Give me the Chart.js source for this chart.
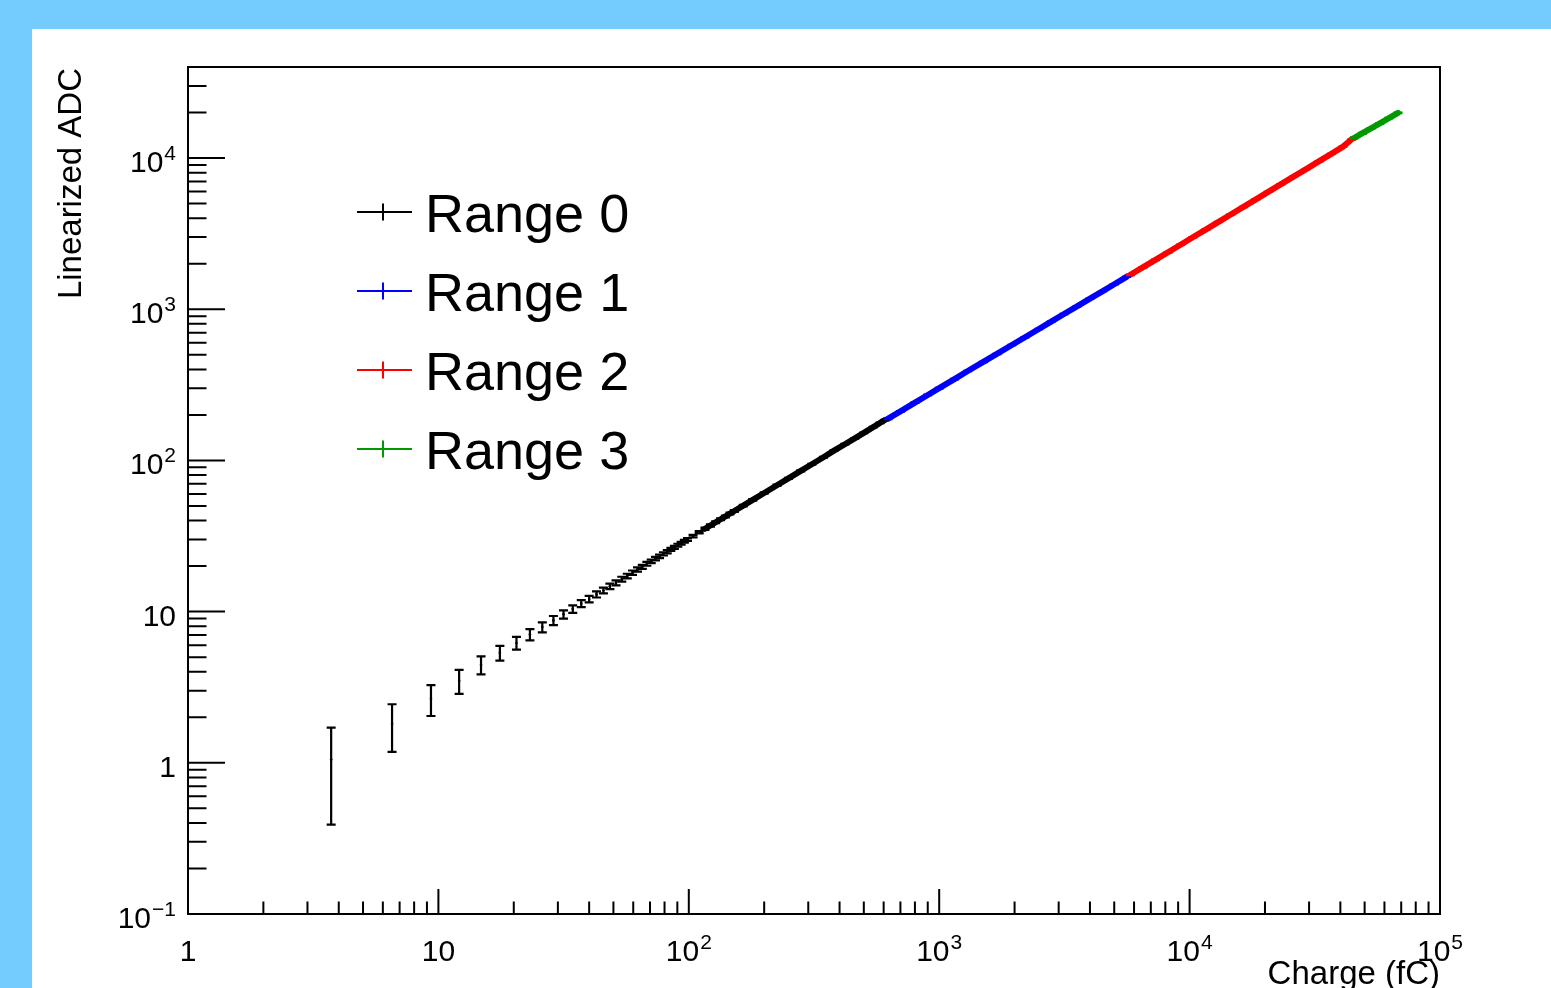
<!DOCTYPE html>
<html>
<head>
<meta charset="utf-8">
<title>Linearized ADC vs Charge</title>
<script src="https://cdn.jsdelivr.net/npm/chart.js@4.4.0/dist/chart.umd.min.js"></script>
<style>
  html, body { margin: 0; padding: 0; background: #74ccfe; overflow: hidden; }
  #chart { position: absolute; left: 32px; top: 29px; background: #ffffff; }
</style>
</head>
<body>
<canvas id="chart" width="1519" height="959"></canvas>
<script>
// values (charge in fC, linearized ADC)
const r0Q = [3.73, 6.53, 9.34, 12.1, 14.8, 17.6, 20.5, 23.2, 26.0, 28.8, 31.6, 34.4, 37.2, 40.0, 42.8,
  45.6, 48.4, 51.2, 54.0, 56.8, 59.6, 62.4, 65.2, 68.0, 70.8, 73.6, 76.4, 79.2, 82.0, 84.8, 87.6, 90.4, 93.2, 96.0, 98.8,
  104, 110, 116, 122, 128, 134, 140, 146, 152,
  165, 180, 200, 225, 250, 280, 310, 345, 380, 420, 460, 500, 545, 580, 607];
const r0Adc = [1.05, 1.81, 2.65, 3.49, 4.45, 5.34, 6.2, 7.05, 7.9, 8.75, 9.6, 10.4, 11.3, 12.1, 13.0,
  13.8, 14.7, 15.5, 16.4, 17.2, 18.1, 19.0, 19.8, 20.7, 21.5, 22.4, 23.2, 24.1, 24.9, 25.8, 26.6, 27.5, 28.3, 29.2, 30.0,
  31.6, 33.5, 35.3, 37.1, 39.0, 40.8, 42.6, 44.5, 46.3,
  50.2, 54.8, 60.9, 68.5, 76.1, 85.3, 94.4, 105, 116, 128, 140, 152, 166, 177, 185];
const r0Err = [0.66, 0.63, 0.61, 0.63, 0.6, 0.6, 0.6, 0.6, 0.6, 0.6, 0.6, 0.6, 0.6, 0.6, 0.6];

const r1Q = [625, 700, 800, 900, 1000, 1150, 1300, 1500, 1700, 1950, 2200, 2500, 2800, 3150, 3550, 4000, 4500, 5000, 5600];
const r1Adc = [189, 211, 241, 271, 301, 345, 390, 448, 506, 580, 653, 740, 828, 930, 1045, 1175, 1318, 1462, 1637];

const r2Q = [5800, 6500, 7300, 8200, 9200, 10300, 11600, 13000, 14600, 16400, 18400, 20600, 23100, 26000, 29200, 32800, 36800, 41000, 44500];
const r2Adc = [1690, 1890, 2120, 2380, 2670, 2990, 3360, 3770, 4230, 4750, 5330, 5970, 6690, 7530, 8450, 9500, 10650, 11900, 13350];

const r3Q = [45500, 49000, 53000, 57500, 62500, 68000];
const r3Adc = [13600, 14600, 15700, 16950, 18350, 19900];

const xMajorTicks = [1, 10, 100, 1000, 10000, 100000];
const xTickLabels = [['1', ''], ['10', ''], ['10', '2'], ['10', '3'], ['10', '4'], ['10', '5']];
const yMajorTicks = [0.1, 1, 10, 100, 1000, 10000];
const yTickLabels = [['10', '\u22121'], ['1', ''], ['10', ''], ['10', '2'], ['10', '3'], ['10', '4']];
const minorSteps = [2, 3, 4, 5, 6, 7, 8, 9];

const FONT = '"Liberation Sans", Arial, Helvetica, sans-serif';

function makeSeries(label, q, adc, color, err, errDefault, lineFrom, dot) {
  return {
    label,
    data: q.map((v, i) => ({ x: v, y: adc[i] })),
    showLine: true,
    borderColor: color,
    backgroundColor: color,
    borderWidth: 6,
    borderCapStyle: 'round',
    borderJoinStyle: 'round',
    pointRadius: dot,
    pointBorderWidth: 0,
    segment: {
      borderColor: ctx => (q[ctx.p0DataIndex] < lineFrom ? 'rgba(0,0,0,0)' : color)
    },
    yErr: err,
    yErrDefault: errDefault
  };
}

function drawLabel(c, base, sup, x, y, align) {
  c.font = `30px ${FONT}`;
  const wb = c.measureText(base).width;
  c.font = `21px ${FONT}`;
  const ws = sup ? c.measureText(sup).width + 1 : 0;
  const x0 = align === 'center' ? x - (wb + ws) / 2 : x - wb - ws;
  c.textAlign = 'left';
  c.textBaseline = 'alphabetic';
  c.font = `30px ${FONT}`;
  c.fillText(base, x0, y);
  if (sup) {
    c.font = `21px ${FONT}`;
    c.fillText(sup, x0 + wb + 1, y - 12);
  }
}

// error bars, frame, inner ticks, labels and legend in ROOT style
const rootStyle = {
  id: 'rootStyle',
  afterDatasetsDraw(chart) {
    const c = chart.ctx, xs = chart.scales.x, ys = chart.scales.y, a = chart.chartArea;
    c.save();
    c.beginPath();
    c.rect(a.left, a.top, a.right - a.left, a.bottom - a.top);
    c.clip();
    c.lineWidth = 2.2;
    chart.data.datasets.forEach(ds => {
      c.strokeStyle = ds.borderColor;
      ds.data.forEach((p, j) => {
        const e = (ds.yErr && ds.yErr[j] !== undefined) ? ds.yErr[j] : ds.yErrDefault;
        const px = xs.getPixelForValue(p.x);
        const top = ys.getPixelForValue(p.y + e);
        const bot = ys.getPixelForValue(p.y - e);
        c.beginPath();
        c.moveTo(px, top); c.lineTo(px, bot);
        c.moveTo(px - 4.5, top); c.lineTo(px + 4.5, top);
        c.moveTo(px - 4.5, bot); c.lineTo(px + 4.5, bot);
        c.stroke();
      });
    });
    c.restore();
  },
  afterDraw(chart) {
    const c = chart.ctx, xs = chart.scales.x, ys = chart.scales.y, a = chart.chartArea;
    c.save();
    c.strokeStyle = '#000';
    c.fillStyle = '#000';
    c.lineWidth = 2;
    c.strokeRect(a.left, a.top, a.right - a.left, a.bottom - a.top);

    const xLen = 25, yLen = 37;
    c.beginPath();
    xMajorTicks.forEach(t => {
      const px = xs.getPixelForValue(t);
      c.moveTo(px, a.bottom); c.lineTo(px, a.bottom - xLen);
      if (t < xs.max) minorSteps.forEach(m => {
        const mx = xs.getPixelForValue(t * m);
        c.moveTo(mx, a.bottom); c.lineTo(mx, a.bottom - xLen / 2);
      });
    });
    yMajorTicks.forEach(t => {
      const py = ys.getPixelForValue(t);
      c.moveTo(a.left, py); c.lineTo(a.left + yLen, py);
      minorSteps.forEach(m => {
        if (t * m > ys.max) return;
        const my = ys.getPixelForValue(t * m);
        c.moveTo(a.left, my); c.lineTo(a.left + yLen / 2, my);
      });
    });
    c.stroke();

    xMajorTicks.forEach((t, i) => {
      drawLabel(c, xTickLabels[i][0], xTickLabels[i][1], xs.getPixelForValue(t), a.bottom + 47, 'center');
    });
    yMajorTicks.forEach((t, i) => {
      drawLabel(c, yTickLabels[i][0], yTickLabels[i][1], a.left - 12, ys.getPixelForValue(t) + 14, 'right');
    });

    c.font = `33px ${FONT}`;
    c.textAlign = 'right';
    c.textBaseline = 'alphabetic';
    c.fillText('Charge (fC)', a.right, a.bottom + 70);
    c.save();
    c.translate(49, a.top + 1);
    c.rotate(-Math.PI / 2);
    c.fillText('Linearized ADC', 0, 0);
    c.restore();

    // legend
    chart.data.datasets.forEach((ds, i) => {
      const cy = 183 + 79 * i;
      c.strokeStyle = ds.borderColor;
      c.lineWidth = 2;
      c.beginPath();
      c.moveTo(325, cy); c.lineTo(380, cy);
      c.moveTo(351, cy - 8.5); c.lineTo(351, cy + 8.5);
      c.stroke();
      c.fillStyle = '#000';
      c.font = `54px ${FONT}`;
      c.textAlign = 'left';
      c.fillText(ds.label, 393, cy + 20);
    });
    c.restore();
  }
};

const ctx = document.getElementById('chart').getContext('2d');
const chart = new Chart(ctx, {
  type: 'scatter',
  data: {
    datasets: [
      makeSeries('Range 0', r0Q, r0Adc, '#000000', r0Err, 0.6, 115, 1.3),
      makeSeries('Range 1', r1Q, r1Adc, '#0000ff', null, 1.2, 0, 0),
      makeSeries('Range 2', r2Q, r2Adc, '#ff0000', null, 10, 0, 0),
      makeSeries('Range 3', r3Q, r3Adc, '#009900', null, 80, 0, 0)
    ]
  },
  options: {
    responsive: false,
    animation: false,
    layout: { padding: { left: 156, top: 38, right: 111, bottom: 74 } },
    plugins: { legend: { display: false }, tooltip: { enabled: false } },
    scales: {
      x: { type: 'logarithmic', min: 1, max: 100000, display: false },
      y: { type: 'logarithmic', min: 0.1, max: 40000, display: false }
    }
  },
  plugins: [rootStyle]
});
</script>
</body>
</html>
